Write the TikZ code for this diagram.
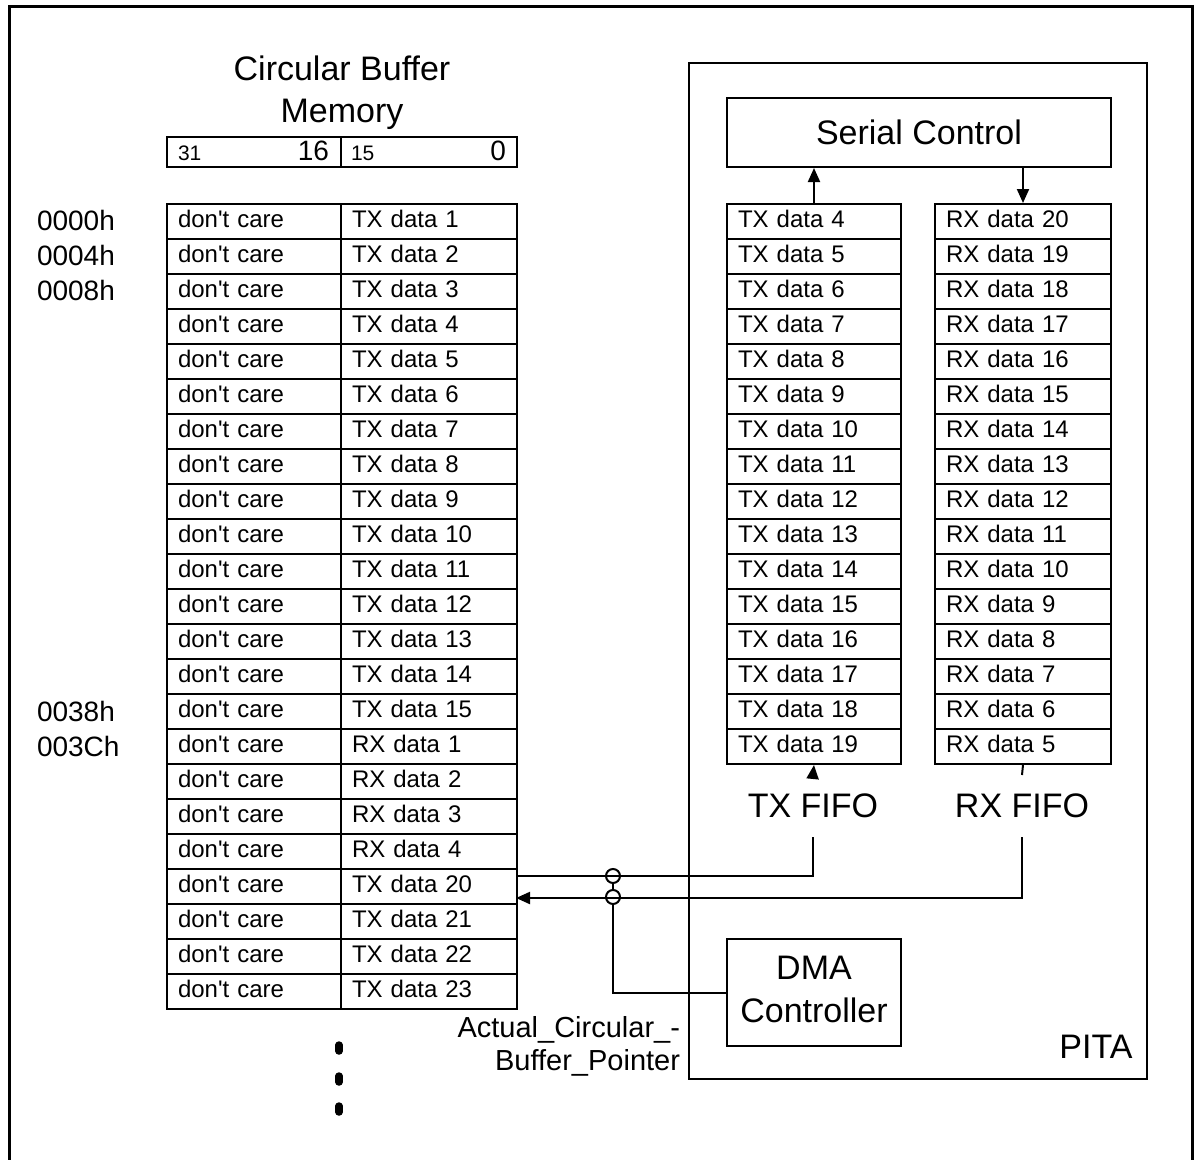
\documentclass[tikz,border=0pt]{standalone}
\usepackage{fontspec}
\setmainfont{Liberation Sans}
\usetikzlibrary{arrows.meta,calc}
\newcommand{\fs}[1]{\fontsize{#1}{#1}\selectfont}
\begin{document}
\begin{tikzpicture}[x=1pt,y=-1pt,line width=2pt,
  every node/.style={inner sep=0pt,font=\fs{24}},
  cell/.style={draw,line width=2pt,anchor=north west,minimum height=35pt,
    inner xsep=11pt,inner ysep=0pt,text width=#1,align=left,
    text height=17pt,text depth=5pt},
  box/.style={draw,line width=2pt,anchor=north west},
  big/.style={font=\fontsize{34}{42}\selectfont,align=center},
  tip/.style={-{Triangle[length=14pt,width=12pt]}},
  dotpill/.style={line width=7.5pt,line cap=round}]
\useasboundingbox (0,0) rectangle (1195,1160);
% outer frame
\draw[line width=3pt] (9,1170) -- (9,6) -- (1192,6) -- (1192,1170);
% title
\node[big] (title) at (342,93) {Circular Buffer\\Memory};
% header
\node[box,minimum width=174pt,minimum height=30pt] (h1) at (166,136) {};
\node[box,minimum width=176pt,minimum height=30pt] (h2) at (340,136) {};
\node[anchor=west,font=\fs{21}] (b31) at ($(h1.west)+(11,1)$) {31};
\node[anchor=east,font=\fs{28}] (b16) at ($(h1.east)+(-12,-1)$) {16};
\node[anchor=west,font=\fs{21}] (b15) at ($(h2.west)+(10,1)$) {15};
\node[anchor=east,font=\fs{28}] (b0) at ($(h2.east)+(-11,-1)$) {0};
% memory rows
\foreach \t [count=\i from 0] in {TX data 1,TX data 2,TX data 3,TX data 4,TX data 5,TX data 6,TX data 7,TX data 8,TX data 9,TX data 10,TX data 11,TX data 12,TX data 13,TX data 14,TX data 15,RX data 1,RX data 2,RX data 3,RX data 4,TX data 20,TX data 21,TX data 22,TX data 23}{
  \node[cell=152pt] (ml\i) at (166,{203+35*\i}) {don\textquotesingle t care};
  \node[cell=154pt] (mr\i) at (340,{203+35*\i}) {\t};
}
% addresses
\node[anchor=west,font=\fs{28}] (a0) at (36,220) {0000h};
\node[anchor=west,font=\fs{28}] (a1) at (36,255) {0004h};
\node[anchor=west,font=\fs{28}] (a2) at (36,290) {0008h};
\node[anchor=west,font=\fs{28}] (a14) at (36,711) {0038h};
\node[anchor=west,font=\fs{28}] (a15) at (36,746) {003Ch};
% PITA
\node[box,minimum width=458pt,minimum height=1016pt] (pita) at (688,62) {};
\node[font=\fs{34}] (pital) at (1096,1047) {PITA};
\node[box,minimum width=384pt,minimum height=69pt,font=\fs{34}] (serial) at (726,97) {Serial Control};
% FIFOs
\foreach \n [count=\i from 0] in {4,...,19}{
  \node[cell=152pt] (tx\i) at (726,{203+35*\i}) {TX data \n};
}
\foreach \n [count=\i from 0] in {20,19,...,5}{
  \node[cell=154pt] (rx\i) at (934,{203+35*\i}) {RX data \n};
}
\node[font=\fs{34},minimum height=60pt] (txl) at (813,806) {TX FIFO};
\node[font=\fs{34},minimum height=60pt] (rxl) at (1022,806) {RX FIFO};
% DMA
\node[box,minimum width=174pt,minimum height=107pt] (dma) at (726,938) {};
\node[big,font=\fontsize{34}{43}\selectfont] (dmal) at ($(dma.center)+(0,-3)$) {DMA\\Controller};
\node[anchor=east,font=\fontsize{29}{33}\selectfont,align=right] (ptr) at (681,1046) {Actual\_Circular\_{-}\\Buffer\_Pointer};
% connectors
\draw[tip] (tx0.north) -- (tx0.north |- serial.south);
\draw[tip] (rx0.north |- serial.south) -- (rx0.north);
\draw[tip] (txl.north) -- (tx15.south);
\draw (rx15.south) -- (rxl.north);
\coordinate (tA) at (516,876);
\coordinate (rA) at (516,898);
\coordinate (c1) at (613,876);
\coordinate (c2) at (613,897);
\draw (txl.south) |- (tA);
\draw[tip] (rxl.south) |- (rA);
\draw (dma.west) -| ($(c2)+(0,7)$);
\draw ($(c2)+(0,-7)$) -- ($(c1)+(0,7)$);
\draw (c1) circle (7pt);
\draw (c2) circle (7pt);
% continuation dots
\draw[dotpill] (339,1045) -- (339,1051);
\draw[dotpill] (339,1076) -- (339,1082);
\draw[dotpill] (339,1106) -- (339,1112);
\end{tikzpicture}
\end{document}
